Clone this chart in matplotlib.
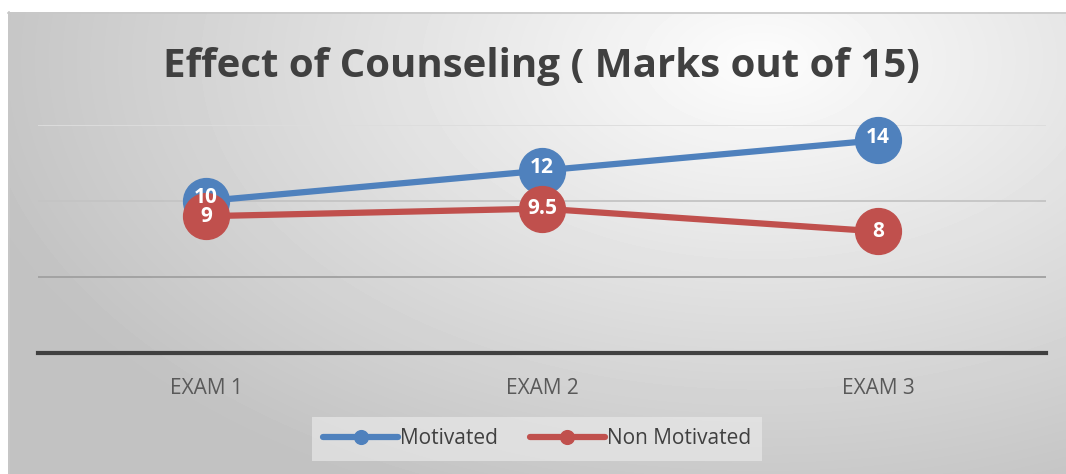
import matplotlib.pyplot as plt
import numpy as np

# data
exams = ["EXAM 1", "EXAM 2", "EXAM 3"]
motivated = [10, 12, 14]
non_motivated = [9, 9.5, 8]
grid_vals = [5, 10, 15]

blue = '#4F81BD'
red = '#C0504D'
font = 'Open Sans'

W, H = 1066, 474
fig = plt.figure(figsize=(W / 100, H / 100), dpi=100)

# gradient chart background
bg = fig.add_axes([0, 0, 1, 1])
bg.set_xlim(0, W)
bg.set_ylim(H, 0)
bg.axis('off')
yy, xx = np.mgrid[12:H, 8:W]
d = np.sqrt(((xx - 760) / 850.0) ** 2 + ((yy - 60) / 500.0) ** 2)
shade = np.clip(0.99 - 0.24 * d, 0.76, 0.99)
bg.imshow(shade, cmap='gray', vmin=0, vmax=1, extent=[8, W, H, 12],
          aspect='auto', interpolation='bilinear')
bg.plot([8, W], [12.5, 12.5], color='#c8c8c8', lw=1.2)
bg.plot([8.5, 8.5], [12, H], color='#c8c8c8', lw=1.2)
bg.set_xlim(0, W)
bg.set_ylim(H, 0)

ax = fig.add_axes([38 / W, 1 - 353 / H, 1008 / W, 228 / H])
ax.patch.set_alpha(0)
for s in ax.spines.values():
    s.set_visible(False)
ax.set_xlim(-0.5, 2.5)
ax.set_ylim(0, 15)
ax.set_yticks([])

grid_colors = ['#a0a0a0', '#c4c4c4', '#dddddd']
for v, c in zip(grid_vals, grid_colors):
    ax.axhline(v, color=c, lw=1.3, zorder=1)
ax.axhline(0, color='#404040', lw=3, zorder=1, clip_on=False)

x = np.arange(len(exams))
ax.plot(x, motivated, color=blue, lw=4.5, marker='o', ms=33,
        solid_capstyle='round', label='Motivated', zorder=3, clip_on=False)
ax.plot(x, non_motivated, color=red, lw=4.5, marker='o', ms=33,
        solid_capstyle='round', label='Non Motivated', zorder=4, clip_on=False)

for xi, v in zip(x, motivated):
    ax.text(xi, v + 0.2, f'{v:g}', ha='center', va='center', color='white',
            fontsize=15, fontweight='bold', family=font, zorder=6)
for xi, v in zip(x, non_motivated):
    ax.text(xi, v, f'{v:g}', ha='center', va='center', color='white',
            fontsize=15, fontweight='bold', family=font, zorder=6)

ax.set_xticks(x)
ax.set_xticklabels(exams, fontsize=15, color='#595959', family=font)
ax.tick_params(axis='x', length=0, pad=18)

fig.text(541 / W, 1 - 67 / H, 'Effect of Counseling ( Marks out of 15)',
         ha='center', va='center', fontsize=29, fontweight='bold',
         color='#404040', family=font)

leg = ax.legend(loc='center', bbox_to_anchor=(537 / W, 1 - 439 / H),
                bbox_transform=fig.transFigure, ncol=2, frameon=True,
                fancybox=False, edgecolor='none', facecolor='#e8e8e8',
                framealpha=0.7, markerscale=0.3, handlelength=3.6,
                handletextpad=0.1, columnspacing=1.5, borderpad=0.55,
                prop={'family': font, 'size': 15})
for t in leg.get_texts():
    t.set_color('#404040')

fig.savefig('out.png', dpi=100)
